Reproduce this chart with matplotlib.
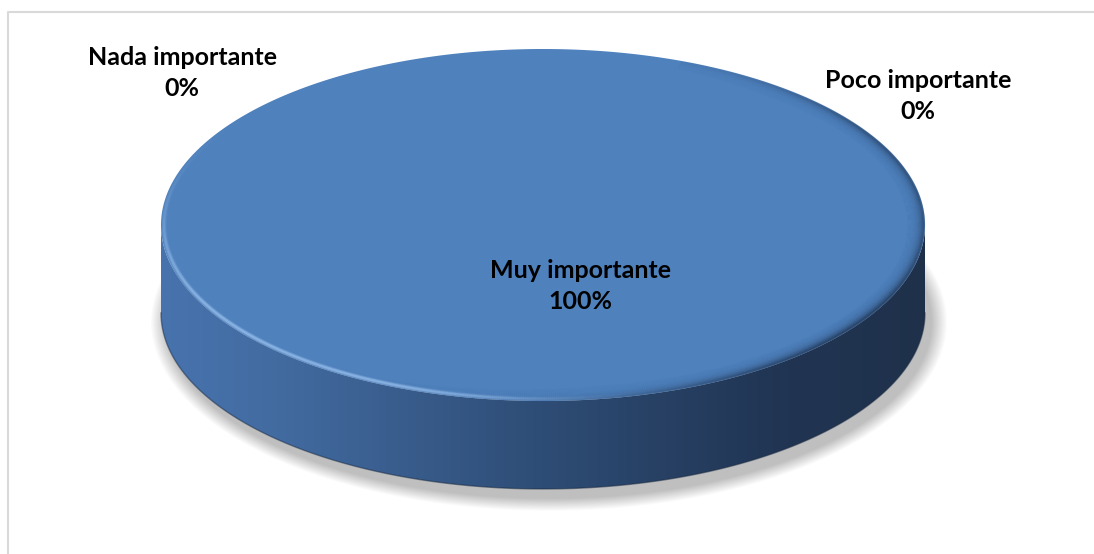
import numpy as np
import matplotlib

matplotlib.use("Agg")
import matplotlib.pyplot as plt
from matplotlib.patches import Polygon, Ellipse
from matplotlib.colors import LinearSegmentedColormap, to_rgb
from matplotlib.collections import LineCollection

# datos de la encuesta
categorias = ["Nada importante", "Muy importante", "Poco importante"]
valores = [0, 100, 0]

# posiciones de etiquetas (px) para cada categoría
pos_etiquetas = [(182, 73), (580, 286), (918, 96)]

W, H = 1094, 554
fig = plt.figure(figsize=(W / 100, H / 100), dpi=100)
ax = fig.add_axes([0, 0, 1, 1])
ax.set_xlim(0, W)
ax.set_ylim(H, 0)
ax.axis("off")

plt.rcParams["font.family"] = ["Lato", "DejaVu Sans"]

# marco del gráfico
ax.plot([8, 8, W + 5], [H + 5, 12, 12], color="#d9d9d9", lw=1.5, clip_on=False)

# geometría del pastel 3D
cx, cy = 543, 225
a, b = 382, 176
depth = 88

# sombra difusa bajo el disco
for k in range(16):
    grow = 16 - k
    ax.add_patch(Ellipse((cx + 6, cy + depth + 9), 2 * (a + grow), 2 * (b + grow * 0.8),
                         facecolor="#000000", edgecolor="none", alpha=0.017, zorder=1))

total = float(sum(valores))
angulos = np.cumsum([0] + [v / total * 2 * np.pi for v in valores])

# paredes laterales (mitad frontal) con degradado horizontal
stops = [(0.0, (0.28, 0.45, 0.68)), (0.15, (0.26, 0.42, 0.63)), (0.5, (0.18, 0.30, 0.46)),
         (0.8, (0.13, 0.21, 0.33)), (1.0, (0.12, 0.19, 0.29))]
cmap_lado = LinearSegmentedColormap.from_list("lado", stops)
grad = np.linspace(0, 1, 512)[None, :]

for i, v in enumerate(valores):
    if v <= 0:
        continue
    lo, hi = max(angulos[i], 0.0), min(angulos[i + 1], np.pi)
    if hi <= lo:
        continue
    ts = np.linspace(lo, hi, 400)
    xs = cx + a * np.cos(ts)
    ys = cy + b * np.sin(ts)
    pts = np.vstack([np.column_stack([xs, ys]), np.column_stack([xs[::-1], ys[::-1] + depth])])
    lado = Polygon(pts, closed=True, facecolor="none", edgecolor="none", zorder=2)
    ax.add_patch(lado)
    im = ax.imshow(grad, cmap=cmap_lado, aspect="auto", extent=[cx - a, cx + a, cy + b + depth, cy],
                   interpolation="bicubic", zorder=2)
    im.set_clip_path(lado)
    # borde inferior algo más oscuro
    ax.plot(xs, ys + depth, color="#1a2a40", lw=1.0, alpha=0.5, zorder=3)

# cara superior
for i, v in enumerate(valores):
    if v <= 0:
        continue
    ts = np.linspace(angulos[i], angulos[i + 1], 600)
    pts = np.column_stack([cx + a * np.cos(ts), cy + b * np.sin(ts)])
    if v < total:
        pts = np.vstack([[cx, cy], pts])
    ax.add_patch(Polygon(pts, closed=True, facecolor="#4f81bd", edgecolor="none", zorder=4))


# bisel del canto: brillo a la izquierda, sombra a la derecha
def bump(t, c, w):
    return np.exp(-((t - c) / w) ** 2)


tt = np.linspace(-1.2, np.pi + 0.6, 900)
tm = 0.5 * (tt[1:] + tt[:-1])
w_luz = np.clip(bump(tm, 2.6, 0.6) + 0.6 * bump(tm, 1.9, 0.35), 0, 1)
w_osc = np.clip(bump(tm, 0.55, 0.75) + 0.5 * bump(tm, -0.5, 0.45), 0, 1)
luz = np.array(to_rgb("#9cc3f0"))
osc = np.array(to_rgb("#1c2f4a"))

for off in np.arange(1, 18, 1.0):
    xs = cx + (a - off) * np.cos(tt)
    ys = cy + (b - off * 0.75) * np.sin(tt)
    segs = np.stack([np.column_stack([xs[:-1], ys[:-1]]), np.column_stack([xs[1:], ys[1:]])], axis=1)
    a_osc = 0.6 * np.exp(-off / 4.0) * w_osc
    a_luz = 0.55 * np.exp(-((off - 3.0) / 1.6) ** 2) * w_luz
    cols = np.zeros((len(tm), 4))
    tot = a_osc + a_luz + 1e-9
    cols[:, :3] = (osc[None, :] * a_osc[:, None] + luz[None, :] * a_luz[:, None]) / tot[:, None]
    cols[:, 3] = np.clip(a_osc + a_luz, 0, 1)
    ax.add_collection(LineCollection(segs, colors=cols, linewidths=1.6, zorder=5))

# etiquetas con categoría y porcentaje
for nombre, v, (x, y) in zip(categorias, valores, pos_etiquetas):
    ax.text(x, y, f"{nombre}\n{v / total:.0%}", ha="center", va="center",
            fontsize=18, fontweight="bold", color="black", linespacing=1.4, zorder=6)

fig.savefig("out.png", dpi=100, facecolor="white")
